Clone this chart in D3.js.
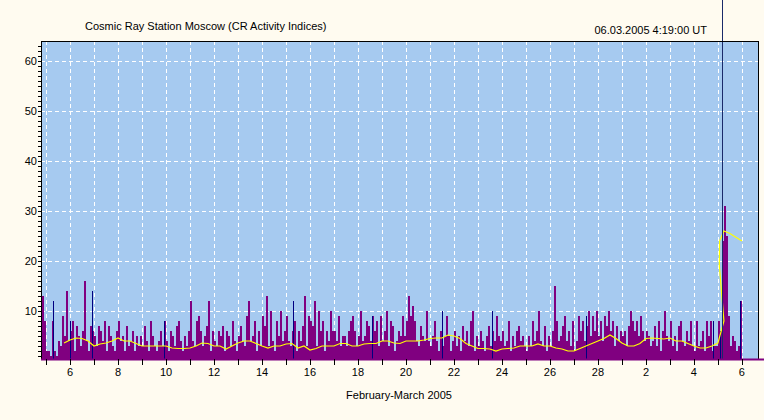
<!DOCTYPE html>
<html><head><meta charset="utf-8">
<script src="https://cdn.jsdelivr.net/npm/d3@7"></script>
<style>body{margin:0;background:#fffbf0}svg{display:block}text{font-family:"Liberation Sans",Arial,sans-serif;font-size:11px}</style>
</head><body><svg id="c" width="764" height="420"></svg>
<script>
// 2-hour bins starting Feb 4 20:00 UT
const barValues = [
 13,8,
 2,2,1,8,2,1,4,3,9,5,14,4,
 6,8,2,7,5,3,6,16,4,2,7,6,
 5,3,7,6,4,8,2,7,5,3,2,6,
 8,4,5,2,7,3,4,6,2,5,3,5,
 3,7,4,2,8,5,3,2,4,6,3,8,
 4,2,6,5,3,7,8,4,2,5,3,6,
 12,4,3,8,9,6,3,5,7,12,2,6,
 4,3,6,5,7,2,6,5,3,8,4,2,
 5,7,4,3,9,12,4,5,8,2,6,3,
 9,7,13,3,10,4,2,8,5,10,4,6,
 9,4,3,6,8,2,6,4,7,13,3,9,
 8,7,12,3,10,6,8,2,6,4,10,6,
 6,4,9,3,5,5,3,6,8,9,6,3,
 5,10,4,5,8,7,4,9,6,8,3,9,
 4,6,10,3,8,7,2,4,6,5,9,5,
 8,13,9,11,8,4,3,7,5,4,10,4,
 3,5,8,4,2,6,3,5,9,5,2,4,
 6,3,5,2,7,4,6,3,8,10,2,5,
 3,6,4,2,5,7,3,6,4,9,5,4,
 6,3,4,8,2,5,3,6,7,4,5,3,
 2,5,3,8,4,6,10,4,3,7,2,5,
 3,6,15,8,4,5,7,9,4,6,3,8,
 2,4,9,6,8,4,7,10,5,9,6,10,
 5,8,4,9,7,10,6,8,3,7,4,6,
 5,6,3,7,10,8,6,8,5,9,6,4,
 6,5,3,4,7,3,8,2,6,10,5,4,
 8,3,5,2,7,8,4,3,6,4,8,3,
 2,8,3,4,6,2,8,5,8,2,3,3,
 8,6,24,31,25,9,3,5,4,2,3,12
];
const navySpikes = [[0.3,12],[1.0,8],[1.9,14],[4.9,8],[10.3,12],[13.6,9],[16.5,10],[18.6,10],[22.5,9],[27.8,8],[28.1,6],[28.9,12]];
const smoothValues = [
 3.6,
 4.2,4.6,4.5,4.0, 3.0,3.4,3.6,4.0, 4.6,4.0,4.0,3.5, 3.0,3.0,3.0,3.0,
 3.0,2.6,2.5,2.5, 2.6,3.0,3.6,3.5, 3.0,3.0,2.4,3.0, 3.6,4.0,4.0,3.5,
 3.0,2.6,3.0,3.0, 3.4,3.5,2.6,3.0, 2.2,2.5,3.0,3.0, 3.0,3.5,3.5,3.0,
 3.0,3.4,3.5,3.5, 4.0,4.0,3.6,3.5, 4.0,4.0,4.0,4.2, 4.5,4.6,4.6,5.2,
 5.0,4.5,3.5,3.0, 2.5,2.5,2.4,2.0, 2.4,2.5,2.6,3.0, 3.0,3.0,3.4,3.0,
 3.0,2.6,2.4,2.0, 2.0,2.5,3.0,3.5, 4.0,4.5,5.2,4.5, 3.6,3.0,3.0,3.5,
 4.5,4.6,4.5,4.4, 4.6,4.0,4.0,3.5, 3.0,2.6,2.6,3.0, 3.6,8
];
const smoothTail = [[28.06,19],[28.07,24],[28.25,26],[28.5,25.5],[29.0,24]];
const yTicks = [10,20,30,40,50,60];
const dayLabels = ["6","8","10","12","14","16","18","20","22","24","26","28","2","4","6"];

const svg = d3.select("#c");
const L=41,R=758,T=41,B=359;
const x = d3.scaleLinear().domain([-0.21,29.67]).range([L,R]);
const y = d3.scaleLinear().domain([0.4,64]).range([B,T]);
svg.append("rect").attr("x",L).attr("y",T).attr("width",R-L).attr("height",B-T).attr("fill","#a6caf0");
for(let d=0; d<=29; d++){
  const xx=Math.round(x(d))+0.5;
  svg.append("line").attr("x1",xx).attr("x2",xx).attr("y1",T).attr("y2",B)
   .attr("stroke","#fff").attr("stroke-dasharray","4,3");
}
yTicks.forEach(v=>{const yy=Math.round(y(v))+0.5;svg.append("line").attr("x1",L).attr("x2",R).attr("y1",yy).attr("y2",yy)
   .attr("stroke","#fff").attr("stroke-dasharray","4,3");});
const bw = x(1/12)-x(0);
svg.append("g").attr("shape-rendering","crispEdges").selectAll("rect").data(barValues).join("rect")
 .attr("x",(v,i)=>x(-4/24 + i/12)).attr("width",bw)
 .attr("y",v=>y(v)).attr("height",v=>B-y(v)).attr("fill","#800080");
svg.append("g").attr("shape-rendering","crispEdges").selectAll("rect").data(navySpikes).join("rect")
 .attr("x",d=>x(d[0])).attr("width",1).attr("y",d=>y(d[1])).attr("height",d=>B-y(d[1])).attr("fill","#000080");
const pts = smoothValues.map((v,i)=>[0.75+i*0.25,v]).concat(smoothTail);
svg.append("path").datum(pts).attr("fill","none").attr("stroke","#ffff00").attr("stroke-width",1.2)
 .attr("d",d3.line().x(d=>x(d[0])).y(d=>y(d[1])));
svg.append("line").attr("x1",Math.round(x(28.17))+0.5).attr("x2",Math.round(x(28.17))+0.5).attr("y1",0).attr("y2",B).attr("stroke","#1a2a6a");
svg.append("rect").attr("x",L+0.5).attr("y",T+0.5).attr("width",R-L).attr("height",B-T).attr("fill","none").attr("stroke","#000");
svg.append("line").attr("x1",L).attr("x2",R+6).attr("y1",B+0.5).attr("y2",B+0.5).attr("stroke","#800080").attr("stroke-width",2);
const ya = svg.append("g").attr("transform",`translate(${L},0)`).attr("shape-rendering","crispEdges").call(d3.axisLeft(y).tickValues(d3.range(1,64)).tickSize(3).tickFormat(""));
ya.select(".domain").remove();
ya.selectAll("line").attr("stroke","#000");
yTicks.forEach(v=>svg.append("text").attr("x",L-4).attr("y",y(v)+4).attr("text-anchor","end").text(v));
const xa = svg.append("g").attr("transform",`translate(0,${B})`).attr("shape-rendering","crispEdges").call(d3.axisBottom(x).tickValues(d3.range(0,30)).tickSize(6).tickFormat(""));
xa.select(".domain").remove(); xa.selectAll("line").attr("stroke","#000");
dayLabels.forEach((t,i)=>svg.append("text").attr("x",x(1+2*i)).attr("y",B+17).attr("text-anchor","middle").text(t));
svg.append("text").attr("x",399).attr("y",399).attr("text-anchor","middle").text("February-March 2005");
svg.append("text").attr("x",85).attr("y",30).text("Cosmic Ray Station Moscow (CR Activity Indices)");
svg.append("text").attr("x",707).attr("y",34).attr("text-anchor","end").text("06.03.2005 4:19:00 UT");
</script></body></html>
